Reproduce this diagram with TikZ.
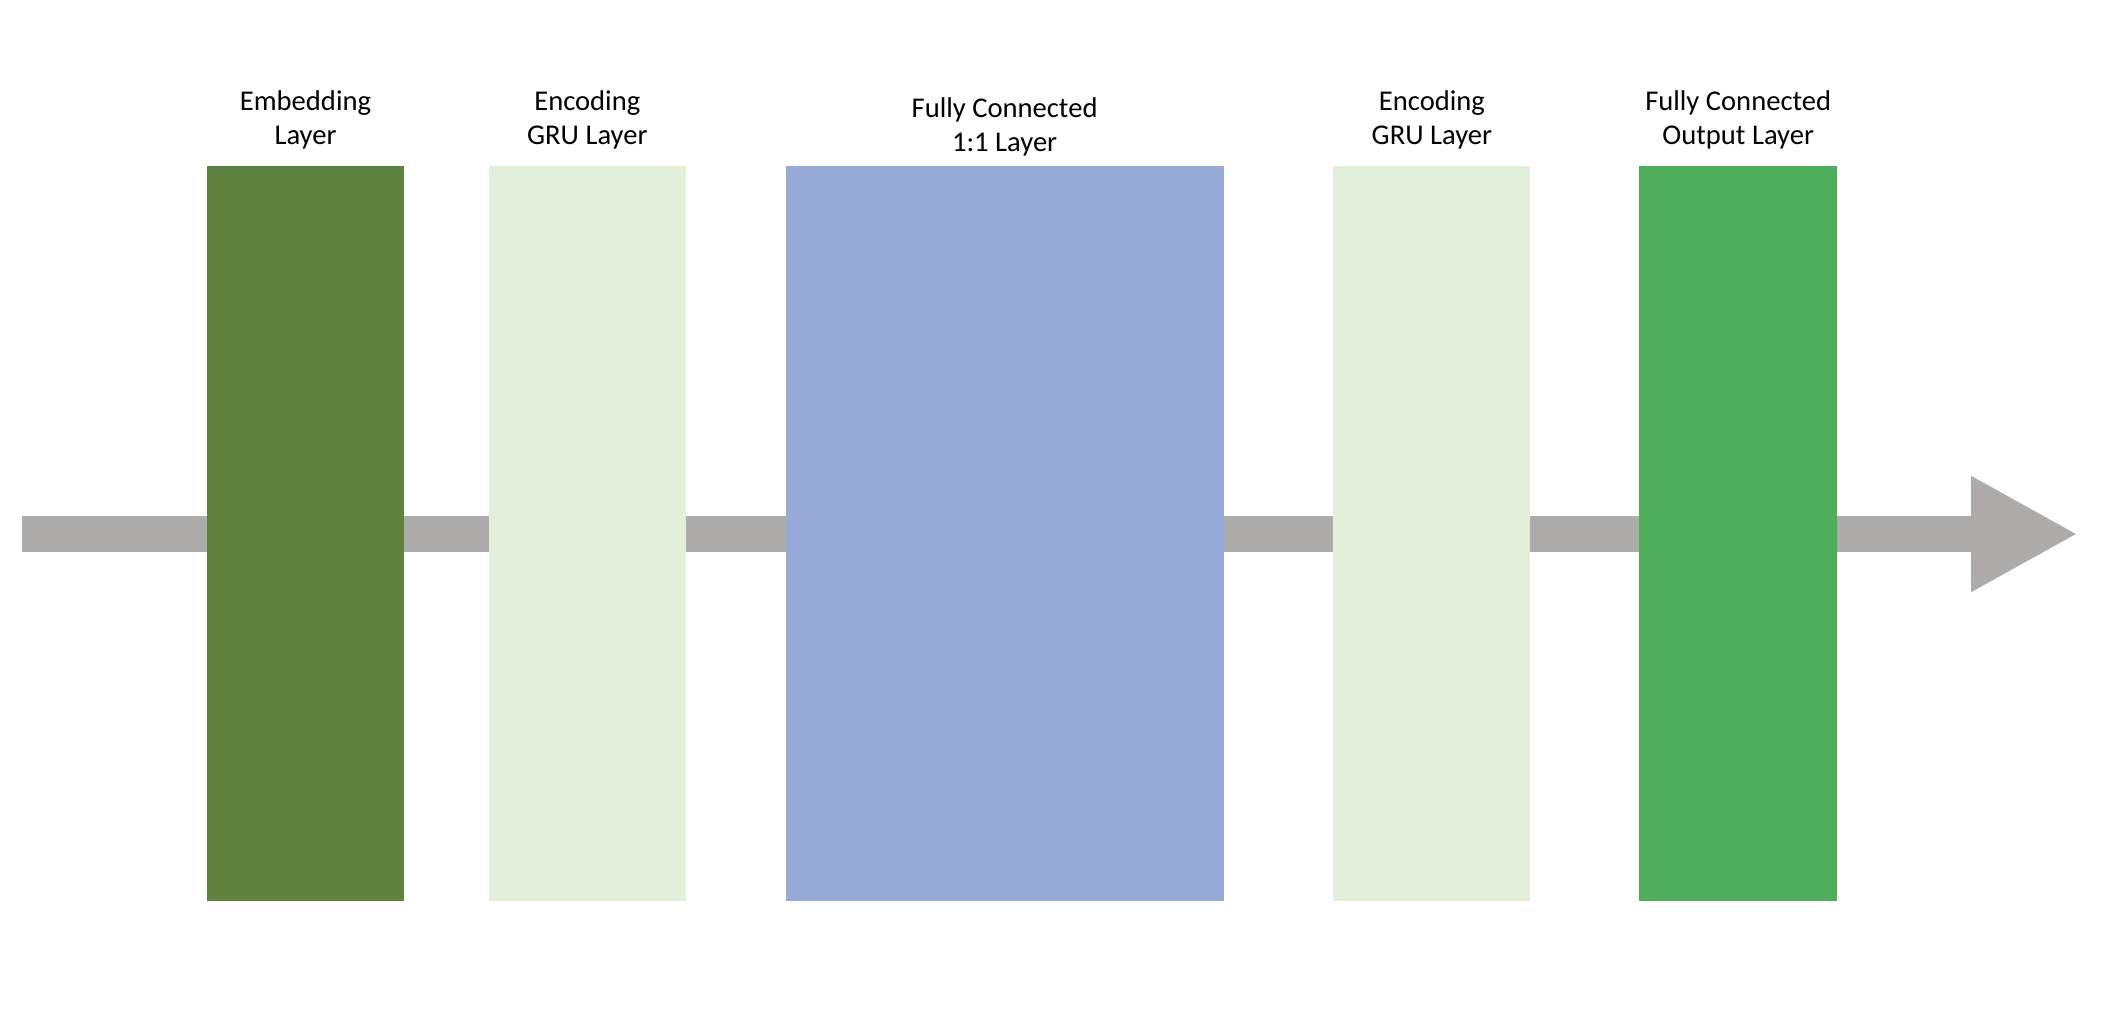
\documentclass[tikz,border=0pt]{standalone}
\usepackage{fontspec}
\setmainfont{Carlito}
\usetikzlibrary{positioning,arrows.meta,backgrounds}

\definecolor{embgreen}{RGB}{95,130,64}
\definecolor{grugreen}{RGB}{227,239,218}
\definecolor{fcblue}{RGB}{150,169,215}
\definecolor{outgreen}{RGB}{80,173,92}
\definecolor{flowgray}{RGB}{174,172,170}

\begin{document}
\begin{tikzpicture}[
  x=0.5pt, y=-0.5pt,
  font=\fontsize{14.3}{17}\selectfont,
  layer/.style={draw=none, inner sep=0pt, minimum height=367.5pt},
  emb/.style={layer, fill=embgreen, minimum width=98.5pt},
  gru/.style={layer, fill=grugreen, minimum width=98.5pt},
  fc/.style={layer, fill=fcblue, minimum width=219pt},
  outl/.style={layer, fill=outgreen, minimum width=99pt},
  lbl/.style={align=center, inner sep=0pt},
  flow/.style={draw=flowgray, line width=18pt, -{Triangle[length=53.5pt, width=54pt]}},
]
\useasboundingbox (0,0) rectangle (2112,1018);

% ---------------- layers ----------------
\node[emb] (embed) at (305.5,533.5) {};
\node[gru, right=42pt of embed] (gruA) {};
\node[fc, right=49.5pt of gruA] (dense) {};
\node[gru, right=54.5pt of dense] (gruB) {};
\node[outl, right=54pt of gruB] (output) {};

% ---------------- labels ----------------
\node[lbl, above=8pt of embed] (embedlbl) {Embedding\\Layer};
\node[lbl, above=8pt of gruA] (gruAlbl) {Encoding\\GRU Layer};
\node[lbl, above=4.5pt of dense] (denselbl) {Fully Connected\\1:1 Layer};
\node[lbl, above=8pt of gruB] (gruBlbl) {Encoding\\GRU Layer};
\node[lbl, above=8pt of output] (outputlbl) {Fully Connected\\Output Layer};

% ---------------- data flow ----------------
\coordinate (src) at (22,534);
\coordinate (dst) at (2078,534);
\begin{scope}[on background layer]
\draw[flow] (src) -- (dst);
\end{scope}

\end{tikzpicture}
\end{document}
